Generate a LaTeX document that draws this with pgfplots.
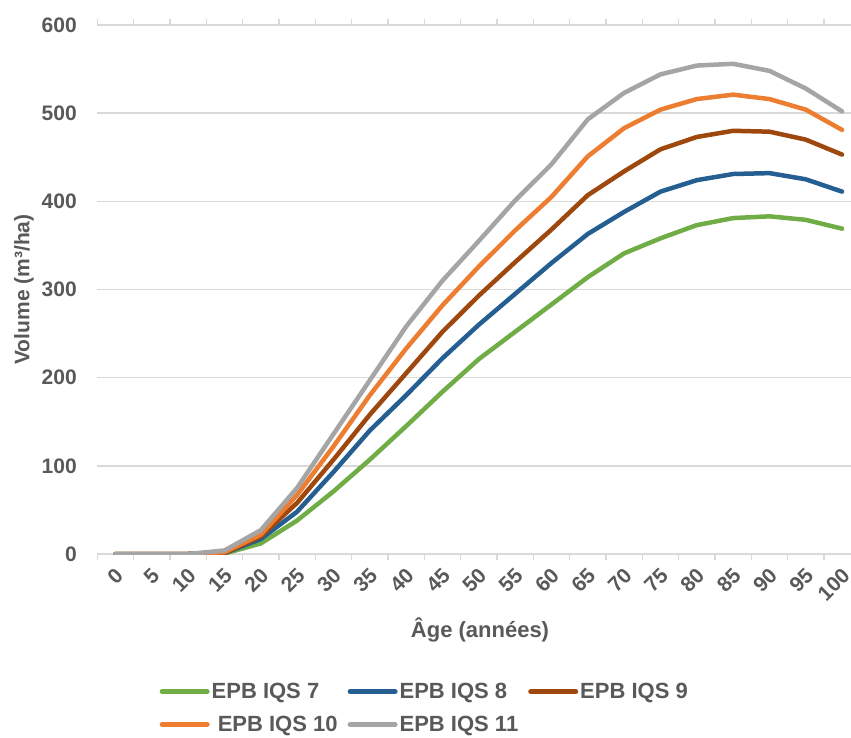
\documentclass[border=0pt]{standalone}
\usepackage{pgfplots}
\usepackage{pgfplotstable}
\usepackage{fontspec}
\setmainfont{Liberation Sans}
\pgfplotsset{compat=1.18}

\definecolor{txt}{HTML}{595959}
\definecolor{gridc}{HTML}{D9D9D9}
\definecolor{cGreen}{HTML}{70AD47}
\definecolor{cBlue}{HTML}{255E91}
\definecolor{cBrown}{HTML}{9E480E}
\definecolor{cOrange}{HTML}{ED7D31}
\definecolor{cGray}{HTML}{A5A5A5}

% volume (m3/ha) by age class, idx = category position
\pgfplotstableread{
idx age  q7  q8  q9  q10 q11
0   0    0   0   0   0   0
1   5    0   0   0   0   0
2   10   0   0   0   0   0
3   15   0.5 1   1   2   4
4   20   12  17  20  22  27
5   25   38  48  58  67  75
6   30   71  93  107 122 136
7   35   107 140 158 180 197
8   40   145 180 205 233 258
9   45   184 222 252 282 310
10  50   221 260 293 326 355
11  55   252 295 331 367 401
12  60   283 330 368 405 442
13  65   314 363 407 451 493
14  70   341 388 434 483 523
15  75   358 411 459 504 544
16  80   373 424 473 516 554
17  85   381 431 480 521 556
18  90   383 432 479 516 548
19  95   379 425 470 504 528
20  100  369 411 453 481 502
}\volumes

\begin{document}
\begin{tikzpicture}
\begin{axis}[
    at={(0,0)}, anchor=south west,
    scale only axis,
    width=753.7pt, height=529pt,
    xmin=-0.5, xmax=20.245,
    ymin=0, ymax=600,
    axis line style={draw=none},
    ytick={0,100,...,600},
    ymajorgrids,
    grid style={gridc, line width=1.5pt},
    major tick length=0pt,
    xtick={0,...,20},
    xticklabels={0,5,10,15,20,25,30,35,40,45,50,55,60,65,70,75,80,85,90,95,100},
    minor xtick={-0.5,0.5,...,20.5},
    minor tick length=6pt,
    tick align=outside,
    minor tick style={gridc, line width=1.5pt},
    /pgf/number format/assume math mode=true,
    ticklabel style={font=\fontsize{21}{24}\selectfont\bfseries, text=txt},
    yticklabel style={xshift=-17pt},
    xticklabel style={yshift=-18pt, xshift=4pt, rotate=45, anchor=east, inner sep=0pt},
    xlabel={Âge (années)},
    ylabel={Volume (m³/ha)},
    every axis x label/.style={at={(axis description cs:0.5078,-0.1437)}, anchor=center,
        font=\fontsize{22}{24}\selectfont\bfseries, text=txt},
    every axis y label/.style={at={(axis description cs:-0.0973,0.5)}, rotate=90, anchor=center,
        font=\fontsize{21}{24}\selectfont\bfseries, text=txt},
    every axis plot/.append style={line width=4.5pt, line join=round, line cap=round},
    legend columns=3,
    legend cell align=left,
    legend image code/.code={\draw[#1, line width=5pt, line cap=round] (0pt,0pt) -- (45pt,0pt);},
    legend style={
        at={(axis description cs:0.0825,-0.24)}, anchor=north west,
        draw=none, fill=none, inner sep=0pt,
        font=\fontsize{22}{24}\selectfont\bfseries, text=txt,
        nodes={inner sep=2pt},
        row sep=12pt,
        /tikz/every even column/.append style={column sep=8pt},
    },
]
\addplot[cGreen] table[x=idx, y=q7] {\volumes};
\addlegendentry{EPB IQS 7}
\addplot[cBlue] table[x=idx, y=q8] {\volumes};
\addlegendentry{EPB IQS 8}
\addplot[cBrown] table[x=idx, y=q9] {\volumes};
\addlegendentry{EPB IQS 9}
\addplot[cOrange] table[x=idx, y=q10] {\volumes};
\addlegendentry{\ EPB IQS 10}
\addplot[cGray] table[x=idx, y=q11] {\volumes};
\addlegendentry{EPB IQS 11}
\end{axis}
\pgfresetboundingbox
\useasboundingbox (-97.3pt,-183pt) rectangle (753.7pt,554pt);
\end{tikzpicture}
\end{document}
